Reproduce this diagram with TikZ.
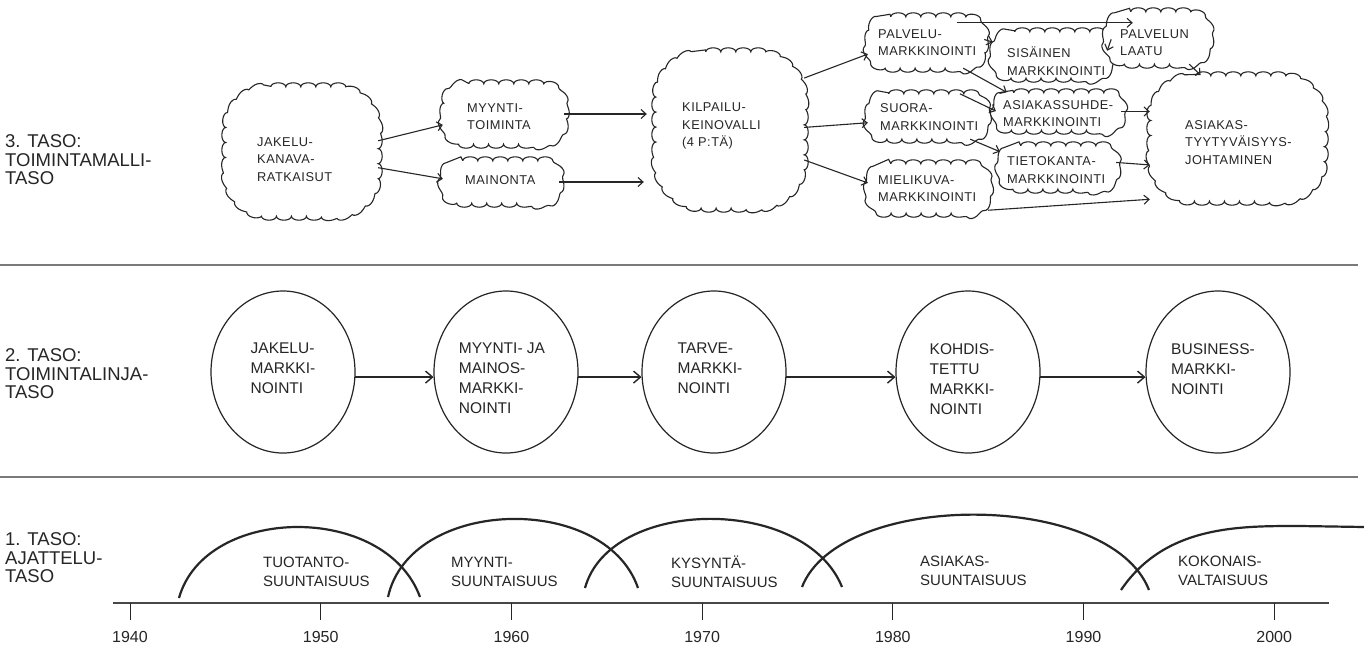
\documentclass[tikz,border=0pt]{standalone}
\usepackage{fontspec}
\setmainfont{Liberation Sans}
\usetikzlibrary{shapes.geometric,arrows.meta,decorations.pathmorphing}
\definecolor{ink}{HTML}{262626}
\definecolor{rulegrey}{HTML}{7A7A7A}
% scalloped box: a named placeholder node plus a bumpy rounded outline around it
% #1 name, #2 x, #3 y, #4 width, #5 height, #6 corner radius
\newcommand\puffnode[6]{%
  \node[cbox, minimum width=#4pt, minimum height=#5pt] (#1) at (#2,#3) {};
  \draw[cloudline] ([xshift=#6pt]#1.north west) -- ([xshift=-#6pt]#1.north east)
    arc[start angle=-90, end angle=0, radius=#6] -- ([yshift=#6pt]#1.south east)
    arc[start angle=0, end angle=90, radius=#6] -- ([xshift=#6pt]#1.south west)
    arc[start angle=90, end angle=180, radius=#6] -- ([yshift=-#6pt]#1.north west)
    arc[start angle=180, end angle=270, radius=#6] -- cycle;
}
\begin{document}
\begin{tikzpicture}[x=1pt,y=-1pt,
  every node/.style={text=ink},
  cbox/.style={rectangle, inner sep=0pt},
  cloudline/.style={draw=ink, fill=white, line width=1.1pt, decorate,
    decoration={bumps, segment length=30pt, amplitude=4pt}},
  ctext/.style={font=\fontsize{12.8}{17.5}\selectfont\addfontfeatures{LetterSpace=4},
    align=left, inner sep=0pt, anchor=west},
  lvl/.style={font=\fontsize{18.5}{18.5}\selectfont, align=left, inner sep=0pt, anchor=west},
  ring/.style={ellipse, draw=ink, line width=1.2pt, minimum width=144pt,
    minimum height=162pt, inner sep=0pt},
  rtext/.style={font=\fontsize{15.5}{20}\selectfont, align=left, inner sep=0pt, anchor=north},
  otext/.style={font=\fontsize{15}{19}\selectfont, align=left, inner sep=0pt, anchor=west},
  year/.style={font=\fontsize{16}{17}\selectfont, inner sep=0pt},
  thin arrow/.style={draw=ink, line width=1.1pt, shorten >=1pt,
    -{Straight Barb[length=5pt,width=9pt]}},
  mid arrow/.style={draw=ink, line width=1.4pt, -{Straight Barb[length=7pt,width=12pt]}},
  hump/.style={draw=ink, line width=2.2pt},
  sep/.style={draw=rulegrey, line width=2pt},
  axisline/.style={draw=ink!85, line width=2pt},
  tick/.style={draw=ink, line width=1pt},
]
\useasboundingbox (0,0) rectangle (1364,648);
\fill[white] (0,0) rectangle (1364,648);

% ---------- level labels ----------
\node[lvl] (lv3) at (5,160) {3. TASO:\\TOIMINTAMALLI-\\TASO};
\node[lvl] (lv2) at (5,374) {2. TASO:\\TOIMINTALINJA-\\TASO};
\node[lvl] (lv1) at (5,558) {1. TASO:\\AJATTELU-\\TASO};

% ---------- separators ----------
\draw[sep] (0,265) -- (1358,265);
\draw[sep] (0,477) -- (1358,477);

% ---------- level 3: clouds ----------
\puffnode{jak}{302}{151.5}{152}{129}{45}
\node[ctext] (jakT) at (257,159.5) {JAKELU-\\KANAVA-\\RATKAISUT};

\puffnode{myy}{504}{114}{120}{60}{25}
\node[ctext] (myyT) at (467,116.5) {MYYNTI-\\TOIMINTA};

\puffnode{mai}{501.5}{182}{115}{42}{19}
\node[ctext] (maiT) at (465,180) {MAINONTA};

\puffnode{kil}{730}{130}{148}{156}{50}
\node[ctext] (kilT) at (682,126) {KILPAILU-\\KEINOVALLI\\(4 P:TÄ)};

\puffnode{pal}{926.5}{42.5}{115}{51}{22}
\node[ctext] (palT) at (878,42.5) {PALVELU-\\MARKKINOINTI};

\puffnode{suo}{927.5}{116.5}{117}{45}{20}
\node[ctext] (suoT) at (880,117) {SUORA-\\MARKKINOINTI};

\puffnode{mie}{928.5}{188.5}{119}{49}{22}
\node[ctext] (mieT) at (878,188.5) {MIELIKUVA-\\MARKKINOINTI};

\puffnode{sis}{1052.5}{55}{117}{46}{21}
\node[ctext] (sisT) at (1007,61) {SISÄINEN\\MARKKINOINTI};

\puffnode{asu}{1059}{111.5}{124}{37}{17}
\node[ctext] (asuT) at (1003,113.5) {ASIAKASSUHDE-\\MARKKINOINTI};

\puffnode{tie}{1058.5}{167.5}{115}{43}{20}
\node[ctext] (tieT) at (1007,170) {TIETOKANTA-\\MARKKINOINTI};

\puffnode{laa}{1158}{38}{102}{52}{24}
\node[ctext] (laaT) at (1120,42.5) {PALVELUN\\LAATU};

\puffnode{ast}{1237.5}{138.5}{173}{125}{45}
\node[ctext] (astT) at (1185,142.5) {ASIAKAS-\\TYYTYVÄISYYS-\\JOHTAMINEN};

% level 3 connectors
\draw[thin arrow] (jak.8) -- (myy.190);
\draw[thin arrow] (jak.-12) -- (mai.177);
\draw[thin arrow, shorten >=9pt] (myy.east) -- (myy.east -| kil.west);
\draw[thin arrow, shorten >=12pt] (mai.east) -- (mai.east -| kil.west);
\draw[thin arrow] (kil.35) -- (pal.191);
\draw[thin arrow] (kil.2) -- (suo.186);
\draw[thin arrow] (kil.-22) -- (mie.175);
\draw[thin arrow, shorten >=4pt] ([xshift=30pt,yshift=-6pt]pal.north)
  -- ([xshift=30pt,yshift=-6pt]pal.north -| laa.west);
\draw[thin arrow] (pal.3) -- (sis.168);
\draw[thin arrow] (pal.-35) -- (asu.160);
\draw[thin arrow] (suo.35) -- (asu.180);
\draw[thin arrow] (suo.-28) -- (tie.165);
\draw[thin arrow] (sis.15) -- (laa.195);
\draw[thin arrow] (laa.-40) -- (ast.120);
\draw[thin arrow] (asu.east) -- (asu.east -| ast.west);
\draw[thin arrow] (tie.5) -- (ast.197);
\draw[thin arrow] (mie.-20) -- (ast.215);

% ---------- level 2: circles ----------
\node[ring] (r1) at (283,372) {};
\node[ring] (r2) at (506,372) {};
\node[ring] (r3) at (714,372) {};
\node[ring] (r4) at (968,372) {};
\node[ring] (r5) at (1218,372) {};
\node[rtext] (r1t) at (283,343) {JAKELU-\\MARKKI-\\NOINTI};
\node[rtext] (r2t) at (502,343) {MYYNTI- JA\\MAINOS-\\MARKKI-\\NOINTI};
\node[rtext] (r3t) at (710,343) {TARVE-\\MARKKI-\\NOINTI};
\node[rtext] (r4t) at (962,343) {KOHDIS-\\TETTU\\MARKKI-\\NOINTI};
\node[rtext] (r5t) at (1213,343) {BUSINESS-\\MARKKI-\\NOINTI};
\draw[mid arrow] (r1.-4) -- (r2.184);
\draw[mid arrow] (r2.-4) -- (r3.184);
\draw[mid arrow] (r3.-4) -- (r4.184);
\draw[mid arrow] (r4.-4) -- (r5.184);

% ---------- level 1: overlapping orientation arcs ----------
\draw[hump] (179,598) .. controls (205,505) and (385,502) .. (420,597);
\draw[hump] (388,597) .. controls (410,497) and (605,492) .. (638,588);
\draw[hump] (585,588) .. controls (610,497) and (805,495) .. (842,587);
\draw[hump] (802,587) .. controls (840,490) and (1110,490) .. (1149,590);
\draw[hump] (1121,590) .. controls (1165,525) and (1240,526) .. (1300,526) -- (1364,527);

\node[otext] (o1) at (263,572) {TUOTANTO-\\SUUNTAISUUS};
\node[otext] (o2) at (451,572) {MYYNTI-\\SUUNTAISUUS};
\node[otext] (o3) at (671,572) {KYSYNTÄ-\\SUUNTAISUUS};
\node[otext] (o4) at (920,571) {ASIAKAS-\\SUUNTAISUUS};
\node[otext] (o5) at (1178,571) {KOKONAIS-\\VALTAISUUS};

% time axis
\draw[axisline] (113,603) -- (1329,603);
\foreach \yr [count=\i from 0] in {1940,1950,...,2000} {
  \draw[tick] (130+190.7*\i,603) -- (130+190.7*\i,620);
  \node[year] (yr\yr) at (130+190.7*\i,637) {\yr};
}
\end{tikzpicture}
\end{document}
